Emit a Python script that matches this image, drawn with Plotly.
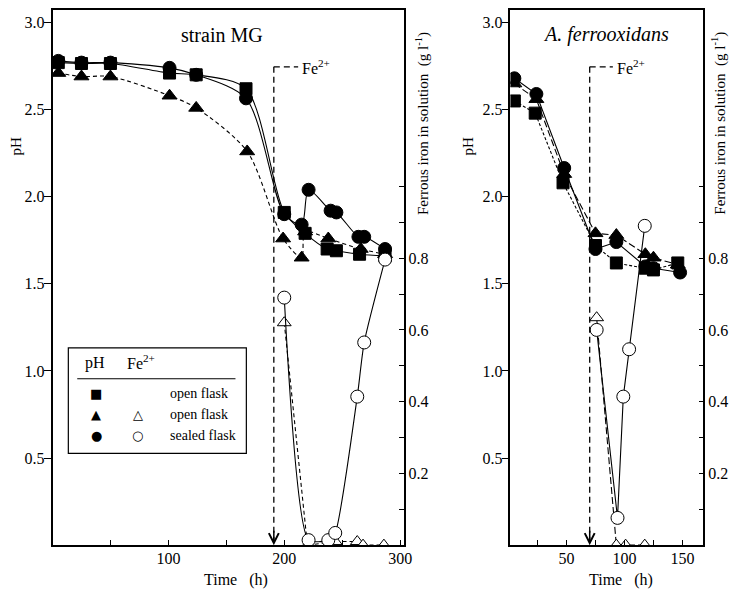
import plotly.graph_objects as go

# ---------------- data ----------------
# strain MG (left panel)
mg_t_sq = [5, 25, 50, 101, 124, 167, 200, 218, 237, 245, 265, 287]
mg_ph_sq = [2.77, 2.765, 2.765, 2.71, 2.70, 2.62, 1.91, 1.79, 1.70, 1.69, 1.67, 1.66]

mg_t_tri = [5, 25, 50, 101, 124, 168, 199, 215, 218, 238, 266, 287]
mg_ph_tri = [2.71, 2.69, 2.69, 2.58, 2.51, 2.26, 1.76, 1.65, 1.80, 1.76, 1.70, 1.67]

mg_t_cir = [5, 25, 50, 101, 124, 167, 200, 215, 221, 240, 245, 264, 269, 287]
mg_ph_cir = [2.78, 2.77, 2.77, 2.74, 2.70, 2.565, 1.90, 1.84, 2.04, 1.92, 1.91, 1.77, 1.77, 1.70]

mg_t_fe_open = [200, 220, 244, 263, 268, 286]
mg_fe_open = [0.62, 0.0, 0.01, 0.01, 0.0, 0.0]

mg_t_fe_sealed = [200, 221, 238, 244, 263, 269, 287]
mg_fe_sealed = [0.69, 0.014, 0.014, 0.034, 0.414, 0.565, 0.796]

# A. ferrooxidans (right panel)
af_t_sq = [5, 23, 47, 75, 93, 118, 125, 146]
af_ph_sq = [2.55, 2.48, 2.08, 1.72, 1.62, 1.59, 1.58, 1.62]

af_t_tri = [5, 24, 48, 75, 93, 118, 125, 146]
af_ph_tri = [2.65, 2.56, 2.13, 1.79, 1.78, 1.67, 1.65, 1.61]

af_t_cir = [5, 24, 48, 75, 93, 118, 125, 148]
af_ph_cir = [2.68, 2.59, 2.165, 1.70, 1.74, 1.60, 1.59, 1.565]

af_t_fe_open = [76, 93, 101, 117.5]
af_fe_open = [0.634, 0.0, 0.0, 0.0]

af_t_fe_sealed = [76, 94, 99, 104, 117.5]
af_fe_sealed = [0.60, 0.076, 0.414, 0.546, 0.89]

# time of Fe2+ addition
fe_add_mg = 191
fe_add_af = 70

ph_ticks = [0.5, 1.0, 1.5, 2.0, 2.5, 3.0]
fe_ticks = [0.1, 0.2, 0.3, 0.4, 0.5, 0.6, 0.7, 0.8, 0.9, 1.0]
fe_ticklabels = ["", "0.2", "", "0.4", "", "0.6", "", "0.8", "", ""]
mg_xticks = [50, 100, 150, 200, 250, 300]
mg_xticklabels = ["", "100", "", "200", "", "300"]
af_xticks = [25, 50, 75, 100, 125, 150]
af_xticklabels = ["", "50", "", "100", "", "150"]

# ---------------- layout helpers ----------------
# page is 744x589; the html body keeps its 8px margin, so the figure
# occupies page pixels 8..736 horizontally and 8..589 vertically
OFF = 8
W, H = 744 - 2 * OFF, 589 - OFF
FONT = "Liberation Serif"


def px(x):
    return (x - OFF) / W


def py(y):
    return 1 - (y - OFF) / H


fig = go.Figure()

BLK = "black"


def add_series(t, v, xa, ya, symbol, dash, filled=True, shape="spline", smooth=0.8, size=12):
    fig.add_trace(go.Scatter(
        x=t, y=v, xaxis=xa, yaxis=ya, mode="lines+markers",
        line=dict(color=BLK, width=1.1, dash=dash, shape=shape,
                  smoothing=smooth if shape == "spline" else None),
        marker=dict(symbol=symbol, size=size,
                    color=BLK if filled else "white",
                    line=dict(color=BLK, width=1)),
        showlegend=False, hoverinfo="skip"))


# left panel
add_series(mg_t_tri, mg_ph_tri, "x", "y", "triangle-up", "4px,3px", size=13)
add_series(mg_t_sq, mg_ph_sq, "x", "y", "square", "solid", size=12)
add_series(mg_t_cir, mg_ph_cir, "x", "y", "circle", "solid", size=13)
add_series(mg_t_fe_open, mg_fe_open, "x", "y2", "triangle-up", "4px,3px", filled=False, shape="linear", size=12)
add_series(mg_t_fe_sealed, mg_fe_sealed, "x", "y2", "circle", "solid", filled=False, smooth=0.6, size=13)

# right panel
add_series(af_t_sq, af_ph_sq, "x2", "y3", "square", "3px,2px", shape="linear", size=12)
add_series(af_t_tri, af_ph_tri, "x2", "y3", "triangle-up", "7px,3px", shape="linear", size=13)
add_series(af_t_cir, af_ph_cir, "x2", "y3", "circle", "solid", shape="linear", size=13)
add_series(af_t_fe_open, af_fe_open, "x2", "y4", "triangle-up", "7px,3px", filled=False, shape="linear", size=12)
add_series(af_t_fe_sealed, af_fe_sealed, "x2", "y4", "circle", "solid", filled=False, shape="linear", size=13)

# plot area spans page y 8 (top of figure) .. 545 (time axis)
ydom = [py(545), 1.0]
PH_PX = 174.8     # pixels per pH unit
FE_PX = 360.0     # pixels per g/l
tickfont = dict(family=FONT, size=16, color=BLK)

xcommon = dict(showline=True, linecolor=BLK, linewidth=1.5, mirror=True,
               ticks="inside", ticklen=5, tickwidth=1, tickcolor=BLK,
               showgrid=False, zeroline=False, tickfont=tickfont, tickmode="array",
               ticklabelstandoff=-2)
ycommon = dict(showline=True, linecolor=BLK, linewidth=1.5,
               ticks="outside", ticklen=7, tickwidth=1, tickcolor=BLK,
               showgrid=False, zeroline=False, tickfont=tickfont,
               tickmode="array", tickvals=ph_ticks, tickformat=".1f",
               range=[0, (545 - OFF) / PH_PX], domain=ydom, ticklabelstandoff=-4)
fecommon = dict(showline=True, linecolor=BLK, linewidth=1.5, side="right",
                ticks="inside", ticklen=5, tickwidth=1, tickcolor=BLK,
                showgrid=False, zeroline=False, tickfont=tickfont,
                tickmode="array", tickvals=fe_ticks, ticktext=fe_ticklabels,
                range=[0, (545 - OFF) / FE_PX])

fig.update_layout(
    width=W, height=H, margin=dict(l=0, r=0, t=0, b=0),
    paper_bgcolor="white", plot_bgcolor="white",
    font=dict(family=FONT, color=BLK),
    xaxis=dict(domain=[px(53), px(408)], range=[0, 303], anchor="y",
               tickvals=mg_xticks, ticktext=mg_xticklabels, **xcommon),
    yaxis=dict(anchor="x", **ycommon),
    yaxis2=dict(anchor="x", overlaying="y", **fecommon),
    xaxis2=dict(domain=[px(516), px(711)], range=[1.6, 168], anchor="y3",
                tickvals=af_xticks, ticktext=af_xticklabels, **xcommon),
    yaxis3=dict(anchor="x2", **ycommon),
    yaxis4=dict(anchor="x2", overlaying="y3", **fecommon),
)

shapes = []
annos = []


def note(x, y, text, size=16, xanchor="center", family=FONT, **kw):
    annos.append(dict(xref="paper", yref="paper", x=px(x), y=py(y), text=text,
                      showarrow=False, xanchor=xanchor, yanchor="middle",
                      font=dict(family=family, size=size, color=BLK), **kw))


# Fe2+ addition markers
for xa, ya, t0, t1, ttext in [("x", "y", fe_add_mg, 212, 214), ("x2", "y3", fe_add_af, 90, 92)]:
    shapes.append(dict(type="line", xref=xa, yref=ya, x0=t0, x1=t0, y0=2.746, y1=0.02,
                       line=dict(color=BLK, width=1.3, dash="6px,4px")))
    shapes.append(dict(type="line", xref=xa, yref=ya, x0=t0, x1=t1, y0=2.746, y1=2.746,
                       line=dict(color=BLK, width=1.3, dash="6px,4px")))
    annos.append(dict(xref=xa, yref=ya, x=ttext, y=2.746, text="Fe<sup>2+</sup>",
                      showarrow=False, xanchor="left", yanchor="middle",
                      font=dict(family=FONT, size=16, color=BLK)))
    annos.append(dict(xref=xa, yref=ya, x=t0, y=0, ax=0, ay=-16, text="",
                      showarrow=True, arrowhead=5, arrowsize=1.3, arrowwidth=1.5,
                      arrowcolor=BLK, standoff=0))

# panel titles
note(224, 33, "strain MG", size=20)
note(613, 33, "<i>A. ferrooxidans</i>", size=20)

# axis titles
NB = "\u00a0"
for xc in (239, 628):
    note(xc, 580, "Time" + NB * 3 + "(h)", size=16)
for xc in (16, 473):
    note(xc, 144, "pH", size=15, textangle=-90)
for xc in (427, 727):
    note(xc, 122, "Ferrous iron in solution" + NB * 2 + "(g l<sup>-1</sup>)", size=15, textangle=-90)

# legend box
shapes.append(dict(type="rect", xref="paper", yref="paper", x0=px(69), x1=px(249), y0=py(453), y1=py(347),
                   line=dict(color=BLK, width=1.2), fillcolor="white", layer="above"))
shapes.append(dict(type="line", xref="paper", yref="paper", x0=px(78), x1=px(238), y0=py(378), y1=py(378),
                   line=dict(color=BLK, width=1.2)))
note(96, 362, "pH", size=16)
note(142, 361, "Fe<sup>2+</sup>", size=16)
rows = [("\u25A0", "", "open flask", 393), ("\u25B2", "\u25B3", "open flask", 414),
        ("\u25CF", "\u25CB", "sealed flask", 435)]
for s1, s2, lab, yy in rows:
    note(97, yy, s1, size=13, family="DejaVu Sans")
    if s2:
        note(139, yy, s2, size=13, family="DejaVu Sans")
    note(170, yy, lab, size=14, xanchor="left")

fig.update_layout(shapes=shapes, annotations=annos)

fig.write_html("out.html")
